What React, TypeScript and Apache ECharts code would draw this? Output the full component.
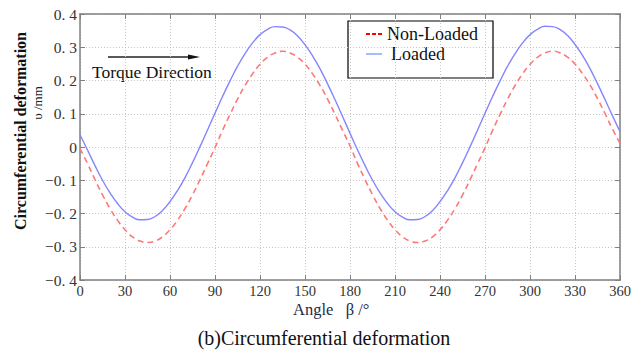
import React, { useEffect, useRef } from "react";
import * as echarts from "echarts";

const angles = Array.from({ length: 73 }, (_, i) => i * 5);
const nonLoaded = [
  -0.004, -0.05, -0.098, -0.144, -0.185, -0.22, -0.249, -0.27, -0.283, -0.287, -0.283, -0.27, -0.249, -0.22, -0.185, -0.144, -0.098, -0.05, -0.002,
  0.05, 0.098, 0.144, 0.185, 0.22, 0.249, 0.27, 0.283, 0.288, 0.283, 0.27, 0.249, 0.22, 0.185, 0.144, 0.098, 0.05, 0.003,
  -0.05, -0.098, -0.144, -0.185, -0.22, -0.249, -0.27, -0.283, -0.287, -0.283, -0.27, -0.249, -0.22, -0.185, -0.144, -0.098, -0.05, -0.002,
  0.05, 0.098, 0.144, 0.185, 0.22, 0.249, 0.27, 0.283, 0.288, 0.283, 0.27, 0.249, 0.22, 0.186, 0.145, 0.1, 0.053, 0.01,
];
const loaded = [
  0.037, -0.009, -0.056, -0.1, -0.138, -0.17, -0.195, -0.211, -0.219, -0.218, -0.209, -0.191, -0.164, -0.131, -0.092, -0.047, 0.001, 0.051, 0.102,
  0.152, 0.199, 0.243, 0.281, 0.313, 0.338, 0.354, 0.362, 0.361, 0.352, 0.334, 0.307, 0.274, 0.235, 0.19, 0.142, 0.092, 0.041,
  -0.009, -0.056, -0.1, -0.138, -0.17, -0.195, -0.211, -0.219, -0.218, -0.209, -0.191, -0.164, -0.131, -0.092, -0.047, 0.001, 0.051, 0.102,
  0.152, 0.199, 0.243, 0.281, 0.313, 0.338, 0.354, 0.363, 0.362, 0.353, 0.335, 0.308, 0.275, 0.235, 0.19, 0.142, 0.093, 0.045,
];
const xTicks = [0, 30, 60, 90, 120, 150, 180, 210, 240, 270, 300, 330, 360];
const yTicks = [-0.4, -0.3, -0.2, -0.1, 0, 0.1, 0.2, 0.3, 0.4];
const seriesNames = ["Non-Loaded", "Loaded"];

const SERIF = "'Liberation Serif', 'Times New Roman', 'DejaVu Serif', serif";

function fmtY(v: number) {
  if (Math.abs(v) < 1e-9) return "0";
  const s = Math.abs(v).toFixed(1).replace(".", ". ");
  return (v < 0 ? "\u2212" : "") + s;
}

export default function App() {
  const ref = useRef<HTMLDivElement>(null);
  useEffect(() => {
    if (!ref.current) return;
    const chart = echarts.init(ref.current, undefined, { renderer: "svg" });
    const gridLine = { show: true, lineStyle: { color: "#c8c8c8", type: [1, 2] as any, width: 1 } };
    const axisLine = { show: true, onZero: false, lineStyle: { color: "#808080", width: 1.5 } };
    const tick = { show: true, inside: true, length: 5, lineStyle: { color: "#808080" } };
    chart.setOption({
      animation: false,
      backgroundColor: "#ffffff",
      grid: { left: 80, right: 12, top: 14, bottom: 70, containLabel: false },
      xAxis: [
        {
          type: "value", min: 0, max: 360, interval: 30,
          axisLine, axisTick: tick, splitLine: gridLine,
          axisLabel: { color: "#333", fontFamily: SERIF, fontSize: 14.5, margin: 3, formatter: (v: number) => (xTicks.includes(v) ? String(v) : "") },
        },
        {
          type: "value", min: 0, max: 360, interval: 30, position: "top",
          axisLine, axisTick: tick, splitLine: { show: false }, axisLabel: { show: false },
        },
      ],
      yAxis: [
        {
          type: "value", min: -0.4, max: 0.4, interval: 0.1,
          axisLine, axisTick: tick, splitLine: gridLine,
          axisLabel: { color: "#333", fontFamily: SERIF, fontSize: 15.5, margin: 3, formatter: (v: number) => (yTicks.some((t) => Math.abs(t - v) < 1e-6) ? fmtY(v) : "") },
        },
        {
          type: "value", min: -0.4, max: 0.4, interval: 0.1, position: "right",
          axisLine, axisTick: tick, splitLine: { show: false }, axisLabel: { show: false },
        },
      ],
      legend: { show: false, data: seriesNames },
      series: [
        {
          name: seriesNames[0], type: "line", smooth: true, symbol: "none",
          data: angles.map((a, i) => [a, nonLoaded[i]]),
          lineStyle: { color: "#ff7878", width: 1.6, type: [6, 4] as any },
          itemStyle: { color: "#ff0000" },
        },
        {
          name: seriesNames[1], type: "line", smooth: true, symbol: "none",
          data: angles.map((a, i) => [a, loaded[i]]),
          lineStyle: { color: "#8585ff", width: 1.4 },
          itemStyle: { color: "#8585ff" },
        },
      ],
      graphic: [
        {
          type: "text", x: 20, y: 131, rotation: Math.PI / 2,
          style: { text: "Circumferential deformation", fontFamily: SERIF, fontSize: 16, fontWeight: "bold", fill: "#111", align: "center", verticalAlign: "middle" },
        },
        {
          type: "text", x: 37, y: 103, rotation: Math.PI / 2,
          style: { text: "υ /mm", fontFamily: SERIF, fontSize: 13, fill: "#222", align: "center", verticalAlign: "middle" },
        },
        {
          type: "line", shape: { x1: 108, y1: 57, x2: 190, y2: 57 },
          style: { stroke: "#222", lineWidth: 1.3 },
        },
        {
          type: "polygon", shape: { points: [[200, 57], [188, 54.5], [188, 59.5]] },
          style: { fill: "#111" },
        },
        {
          type: "text", x: 92, y: 72,
          style: { text: "Torque Direction", fontFamily: SERIF, fontSize: 17.5, fill: "#111", align: "left", verticalAlign: "middle" },
        },
        {
          type: "rect", shape: { x: 348, y: 21, width: 145, height: 57 },
          style: { fill: "#fff", stroke: "#000", lineWidth: 1.2 },
        },
        {
          type: "line", shape: { x1: 366, y1: 34, x2: 384, y2: 34 },
          style: { stroke: "#ff0000", lineWidth: 1.8, lineDash: [4, 2] },
        },
        {
          type: "text", x: 387, y: 34,
          style: { text: seriesNames[0], fontFamily: SERIF, fontSize: 18, fill: "#111", align: "left", verticalAlign: "middle" },
        },
        {
          type: "line", shape: { x1: 366, y1: 54, x2: 382, y2: 54 },
          style: { stroke: "#7f9fff", lineWidth: 1.4 },
        },
        {
          type: "text", x: 391, y: 54,
          style: { text: seriesNames[1], fontFamily: SERIF, fontSize: 18, fill: "#111", align: "left", verticalAlign: "middle" },
        },
        {
          type: "text", x: 293, y: 309,
          style: { text: "Angle   β /°", fontFamily: SERIF, fontSize: 16.5, fill: "#1f2a44", align: "left", verticalAlign: "middle" },
        },
        {
          type: "text", x: 324, y: 338,
          style: { text: "(b)Circumferential deformation", fontFamily: SERIF, fontSize: 20, fill: "#111", align: "center", verticalAlign: "middle" },
        },
      ],
    });
    return () => chart.dispose();
  }, []);
  return <div ref={ref} style={{ width: 634, height: 350, position: "absolute", left: 0, top: 0 }} />;
}
